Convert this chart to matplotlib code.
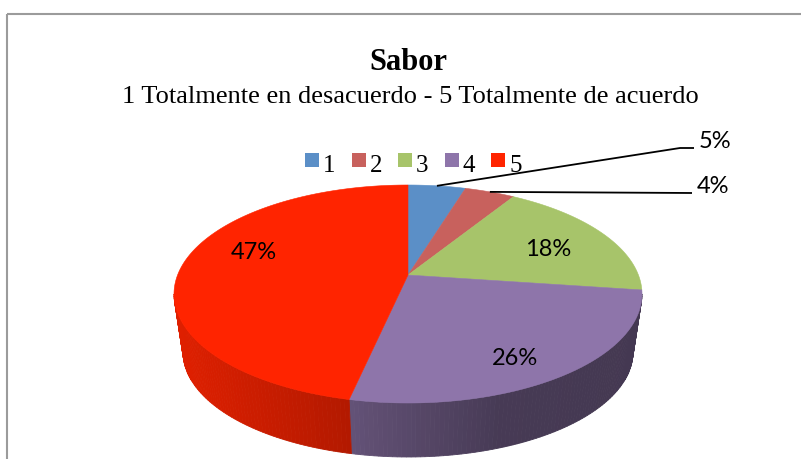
import numpy as np
import matplotlib.pyplot as plt
import matplotlib.colors as mcolors
from matplotlib.patches import Polygon, Rectangle

# data (percent of answers)
categories = ["1", "2", "3", "4", "5"]
shares = [4.7, 4.1, 18.4, 26.2, 46.6]
slice_colors = ["#5B8FC7", "#C8615D", "#A7C46A", "#8E75AA", "#FF2400"]

title = "Sabor"
subtitle = "1 Totalmente en desacuerdo - 5 Totalmente de acuerdo"

W, H = 801, 459
fig = plt.figure(figsize=(W / 100, H / 100), dpi=100)
ax = fig.add_axes([0, 0, 1, 1])
ax.set_xlim(0, W)
ax.set_ylim(H, 0)
ax.axis("off")

# pie geometry in pixels: top face / bottom rim (centre y, half width, half height)
CX = 408
TOP = (294, 234, 109)
BOT = (352, 225, 105)
TILT = 0.174  # perspective, moves the pie centre towards the back


def project(theta, r, face):
    cy, a, b = face
    th = np.radians(theta)
    x, y = r * np.sin(th), r * np.cos(th)
    d = 1 + TILT * y
    xp = x * np.sqrt(1 - TILT ** 2) / d
    yp = (y + TILT) / d
    return CX + a * xp, cy - b * yp


def shade(color, x):
    k = np.interp(x, [180, 350, 500, 640], [0.87, 0.70, 0.50, 0.48])
    return tuple(np.array(mcolors.to_rgb(color)) * k)


edges = np.concatenate([[0], np.cumsum(shares)]) / sum(shares) * 360

# side wall, drawn in thin strips to get the shading
for start, end, col in zip(edges[:-1], edges[1:], slice_colors):
    lo, hi = max(start, 100), min(end, 260)
    if hi <= lo:
        continue
    th = np.linspace(lo, hi, int(hi - lo) + 2)
    for t0, t1 in zip(th[:-1], th[1:]):
        p0, p1 = project(t0, 1, TOP), project(t1, 1, TOP)
        q0, q1 = project(t0, 1, BOT), project(t1, 1, BOT)
        c = shade(col, (p0[0] + p1[0]) / 2)
        ax.add_patch(Polygon([p0, p1, q1, q0], closed=True, fc=c, ec=c,
                             lw=0.6, zorder=1))

# top face
apex = project(0, 0, TOP)
for start, end, col in zip(edges[:-1], edges[1:], slice_colors):
    th = np.linspace(start, end, max(int(end - start), 2) + 1)
    pts = [apex] + [project(t, 1, TOP) for t in th]
    ax.add_patch(Polygon(pts, closed=True, fc=col, ec=col, lw=0.4, zorder=2))

# data labels
lab_font = dict(family="Lato", fontsize=17, color="black", zorder=5)
mids = (edges[:-1] + edges[1:]) / 2
inside_shift = {2: (11, 0), 3: (12, 19), 4: (-7, -17)}
for i, dx_dy in inside_shift.items():
    x, y = project(mids[i], 0.65, TOP)
    ax.text(x + dx_dy[0], y + dx_dy[1] + 8.5, f"{round(shares[i])}%",
            ha="center", va="baseline", **lab_font)

leaders = {0: [(680, 148), (694, 148)], 1: [(692, 193)]}
for i, path in leaders.items():
    pts = [project(mids[i], 1, TOP)] + path
    xs, ys = zip(*pts)
    ax.plot(xs, ys, color="black", lw=1.3, zorder=4, solid_capstyle="butt")
    ax.text(path[-1][0] + 5, path[-1][1], f"{round(shares[i])}%",
            ha="left", va="baseline", **lab_font)

# titles
ax.text(408, 70, title, ha="center", va="baseline", fontsize=22,
        fontweight="bold", family="Liberation Serif")
ax.text(410, 103, subtitle, ha="center", va="baseline", fontsize=19,
        family="Liberation Serif")

# legend
for i, (lab, col) in enumerate(zip(categories, slice_colors)):
    x0 = 305 + i * 46.6
    ax.add_patch(Rectangle((x0, 153), 14, 14, fc=col, ec="none"))
    ax.text(x0 + 18, 172, lab, ha="left", va="baseline", fontsize=18,
            family="Liberation Serif")

# chart frame (runs off the right and bottom edge)
ax.add_patch(Rectangle((6.5, 14), 1000, 1000, fill=False, ec="#9B9B9B", lw=1.5))

fig.savefig("out.png", dpi=100)
